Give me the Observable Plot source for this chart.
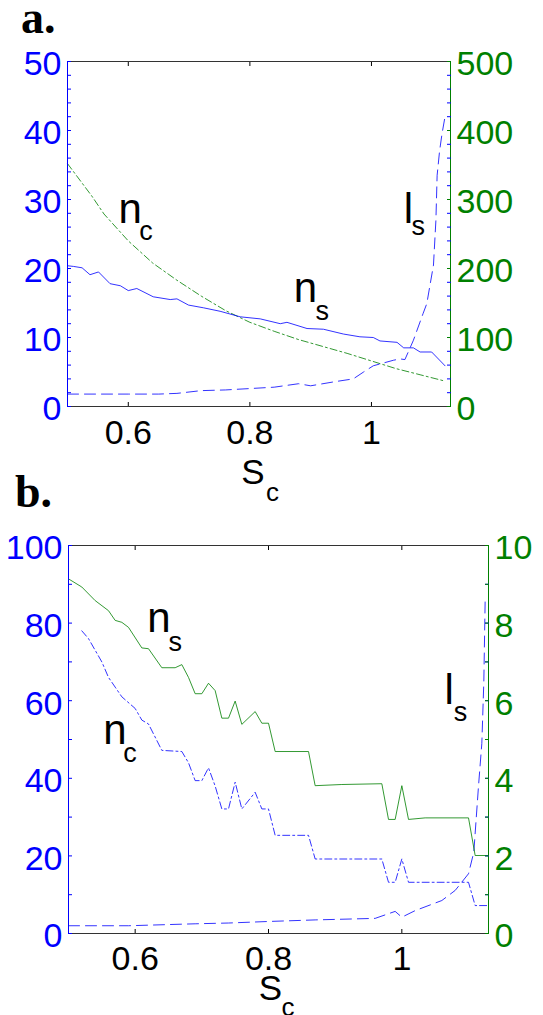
<!DOCTYPE html>
<html>
<head>
<meta charset="utf-8">
<script src="https://cdn.jsdelivr.net/npm/d3@7"></script>
<script src="https://cdn.jsdelivr.net/npm/@observablehq/plot@0.6"></script>
<style>
  html, body { margin: 0; padding: 0; background: #fff; }
  #wrap { position: relative; width: 543px; height: 1015px; overflow: hidden; }
  .panel { position: absolute; left: 0; }
  .tag { position: absolute; font-family: "Liberation Serif", "Times New Roman", serif; font-weight: bold; font-size: 46px; line-height: 36px; color: #000; }
</style>
</head>
<body>
<div id="wrap">
  <div class="tag" style="left:21px; top:0px;">a.</div>
  <div class="tag" style="left:15px; top:474px;">b.</div>
</div>
<script>
// ---------- shared ----------
const blue = "#0000ff";
const green = "#008000";
const ink = "#000000";
const xDomain = [0.5, 1.13];
const xTickValues = [0.6, 0.8, 1];

// ---------- panel a data ----------
const aLeftMax = 50, aRightMax = 500;
const aLeftLabels = [0, 10, 20, 30, 40, 50];
const aLeftTicks = [0,2,4,6,8,10,12,14,16,18,20,22,24,26,28,30,32,34,36,38,40,42,44,46,48,50];
const aRightLabels = [0, 100, 200, 300, 400, 500];

// n_s (solid blue, left axis)
const aNsS = [0.500,0.510,0.524,0.537,0.551,0.570,0.587,0.600,0.614,0.641,0.669,0.680,0.699,0.724,0.751,0.784,0.817,0.850,0.861,0.894,0.921,0.954,0.981,1.003,1.014,1.042,1.053,1.069,1.080,1.099,1.121];
const aNs  = [20.4,20.3,20.1,19.1,19.5,17.8,17.5,16.8,17.1,15.9,15.5,15.6,14.7,14.3,13.8,13.0,12.7,12.0,12.2,11.3,11.2,10.5,10.1,10.0,9.5,9.3,8.5,8.5,7.9,7.9,5.9];
// n_c (green dash-dot, right axis)
const aNcS = [0.50,0.54,0.56,0.60,0.64,0.68,0.72,0.76,0.80,0.84,0.88,0.92,0.96,1.00,1.04,1.08,1.12];
const aNc  = [352,305,279,240,208,183,160,139,122,109,97,87,77,66,55,46,37];
// l_s (blue dashed, left axis)
const aLsS = [0.50,0.55,0.60,0.65,0.68,0.72,0.76,0.80,0.84,0.88,0.90,0.94,0.97,0.987,1.003,1.036,1.047,1.055,1.069,1.085,1.091,1.102,1.106,1.108,1.112,1.116,1.121];
const aLs  = [1.8,1.8,1.8,1.8,1.9,2.3,2.4,2.6,2.8,3.3,3.0,3.6,4.0,5.0,5.9,6.7,6.9,6.8,9.6,13.5,14.9,20.5,27,33.5,37,39.5,42];

// annotations (panel a): main letters and subscripts, in data units of the left axis
const aMainText = ["n", "l", "n"];
const aMainX = [0.584, 1.053, 0.872];
const aMainY = [26.6, 26.6, 15.1];
const aSubText = ["c", "s", "s"];
const aSubX = [0.618, 1.066, 0.908];
const aSubY = [24.1, 24.9, 12.5];

// ---------- panel b data ----------
const bLeftMax = 100, bRightMax = 10;
const bLeftLabels = [0, 20, 40, 60, 80, 100];
const bLeftTicks = [0,10,20,30,40,50,60,70,80,90,100];
const bRightLabels = [0, 2, 4, 6, 8, 10];
const bRightTicks = [0,1,2,3,4,5,6,7,8,9,10];

// n_s (green solid, right axis)
const bNsS = [0.50,0.52,0.54,0.56,0.57,0.58,0.59,0.61,0.62,0.64,0.66,0.67,0.68,0.69,0.70,0.71,0.72,0.73,0.74,0.75,0.76,0.78,0.79,0.80,0.81,0.86,0.87,0.91,0.97,0.98,0.99,1.00,1.01,1.035,1.10,1.11,1.13];
const bNs  = [9.14,8.93,8.58,8.32,8.07,8.02,7.89,7.36,7.34,6.85,6.85,6.93,6.6,6.18,6.18,6.45,6.26,5.55,5.55,5.99,5.39,5.72,5.42,5.42,4.69,4.69,3.81,3.84,3.86,2.94,2.94,3.81,2.94,2.98,2.98,2.01,2.01];
// n_c (blue dash-dot, left axis)
const bNcS = [0.52,0.53,0.55,0.56,0.57,0.58,0.60,0.61,0.62,0.64,0.67,0.68,0.69,0.70,0.71,0.72,0.73,0.74,0.75,0.76,0.78,0.79,0.80,0.81,0.86,0.87,0.97,0.98,0.99,1.00,1.01,1.10,1.11,1.13];
const bNc  = [78,76,70,66,63.5,61,58,55,54,47.2,46.9,44,39.4,39.4,42.7,38,32.1,32.1,39.0,32.1,36.4,32.1,32.1,25.3,25.3,19.2,19.2,13.2,13.2,19.2,13.2,13.2,7.2,7.2];
// l_s (blue dashed, left axis)
const bLsS = [0.50,0.59,0.69,0.74,0.80,0.87,0.96,0.99,1.00,1.02,1.06,1.08,1.10,1.108,1.115,1.12,1.123,1.125];
const bLs  = [2.0,2.0,2.5,2.7,3.1,3.5,3.9,5.7,4.2,5.9,8.5,11.1,15.4,21,38,49,65,86];

// annotations (panel b)
const bMainText = ["n", "n", "l"];
const bMainX = [0.618, 0.552, 1.064];
const bMainY = [77.6, 48.9, 59.2];
const bSubText = ["s", "c", "s"];
const bSubX = [0.650, 0.582, 1.078];
const bSubY = [72.9, 44.2, 54.7];

// ---------- builder ----------
const solid = null, dashed = "11,6", dashdot = "7,3,2,3";

function zip(xs, ys, k = 1) { return xs.map((x, i) => ({x, y: ys[i] * k})); }
function notes(t, xs, ys) { return t.map((s, i) => ({t: s, x: xs[i], y: ys[i]})); }

function panel(cfg) {
  const k = cfg.leftMax / cfg.rightMax;  // right-axis value -> left-axis units
  const marks = [];
  for (const s of cfg.series) {
    marks.push(Plot.line(zip(s.x, s.y, s.axis === "right" ? k : 1), {
      x: "x", y: "y", stroke: s.color, strokeWidth: 1, strokeOpacity: 0.8, strokeDasharray: s.dash
    }));
  }
  // frame spines
  marks.push(Plot.ruleY([0, cfg.leftMax], {stroke: ink, strokeOpacity: 0.8, strokeWidth: 1}));
  marks.push(Plot.ruleX([xDomain[0]], {stroke: blue, strokeWidth: 1}));
  marks.push(Plot.ruleX([xDomain[1]], {stroke: green, strokeWidth: 1}));
  // inward ticks
  marks.push(Plot.axisY({anchor: "left", ticks: cfg.leftTicks, tickSize: -4, stroke: blue, fill: "none", label: null}));
  marks.push(Plot.axisY({anchor: "right", ticks: cfg.leftTicks, tickSize: -4, stroke: blue, fill: "none", label: null}));
  marks.push(Plot.axisY({anchor: "right", ticks: cfg.rightTicks.map(v => v * k), tickSize: -4, stroke: green, fill: "none", label: null}));
  marks.push(Plot.axisX({anchor: "bottom", ticks: xTickValues, tickSize: -4, stroke: ink, fill: "none", label: null}));
  marks.push(Plot.axisX({anchor: "top", ticks: xTickValues, tickSize: -4, stroke: ink, fill: "none", label: null}));
  // tick labels
  marks.push(Plot.axisY({anchor: "left", ticks: cfg.leftLabels, tickSize: 0, tickPadding: 6, dy: 3, label: null,
    tickFormat: d => String(d), fill: blue, fontSize: 34}));
  marks.push(Plot.axisY({anchor: "right", ticks: cfg.rightLabels.map(v => v * k), tickSize: 0, tickPadding: 6, dy: 3, label: null,
    tickFormat: d => String(Math.round(d / k)), fill: green, fontSize: 34}));
  marks.push(Plot.axisX({anchor: "bottom", ticks: xTickValues, tickSize: 0, tickPadding: cfg.xPad, label: null,
    tickFormat: d => String(d), fill: ink, fontSize: 34}));
  // x-axis label S_c
  marks.push(Plot.text(["S"], {text: d => d, frameAnchor: "bottom", dx: cfg.sDx, dy: cfg.sDy,
    lineAnchor: "bottom", textAnchor: "middle", fontSize: 35, fill: ink}));
  marks.push(Plot.text(["c"], {text: d => d, frameAnchor: "bottom", dx: cfg.cDx, dy: cfg.cDy,
    lineAnchor: "bottom", textAnchor: "start", fontSize: 26, fill: ink}));
  // curve annotations
  marks.push(Plot.text(cfg.main, {x: "x", y: "y", text: "t", textAnchor: "start", lineAnchor: "bottom", fontSize: 42, fill: ink}));
  marks.push(Plot.text(cfg.sub, {x: "x", y: "y", text: "t", textAnchor: "start", lineAnchor: "bottom", fontSize: 27, fill: ink}));

  const svg = Plot.plot({
    width: 543,
    height: cfg.height,
    marginTop: cfg.marginTop,
    marginBottom: cfg.marginBottom,
    marginLeft: cfg.marginLeft,
    marginRight: cfg.marginRight,
    x: {domain: xDomain, label: null},
    y: {domain: [0, cfg.leftMax], label: null},
    style: {fontFamily: '"Liberation Sans", Arial, Helvetica, sans-serif', fontSize: "34px", background: "transparent", overflow: "visible"},
    marks
  });
  svg.classList.add("panel");
  svg.style.top = cfg.top + "px";
  return svg;
}

const wrap = document.getElementById("wrap");

wrap.appendChild(panel({
  top: 0, height: 515, marginTop: 61, marginBottom: 109, marginLeft: 67, marginRight: 93,
  leftMax: aLeftMax, rightMax: aRightMax,
  leftLabels: aLeftLabels, leftTicks: aLeftTicks,
  rightLabels: aRightLabels, rightTicks: aRightLabels,
  xPad: 13, sDx: -6, sDy: 77, cDx: 7, cDy: 94,
  series: [
    {x: aNcS, y: aNc, axis: "right", color: green, dash: dashdot},
    {x: aLsS, y: aLs, axis: "left", color: blue, dash: dashed},
    {x: aNsS, y: aNs, axis: "left", color: blue, dash: solid}
  ],
  main: notes(aMainText, aMainX, aMainY),
  sub: notes(aSubText, aSubX, aSubY)
}));

wrap.appendChild(panel({
  top: 515, height: 500, marginTop: 30, marginBottom: 82, marginLeft: 68, marginRight: 55,
  leftMax: bLeftMax, rightMax: bRightMax,
  leftLabels: bLeftLabels, leftTicks: bLeftTicks,
  rightLabels: bRightLabels, rightTicks: bRightTicks,
  xPad: 12, sDx: -8, sDy: 66, cDx: 3, cDy: 82,
  series: [
    {x: bLsS, y: bLs, axis: "left", color: blue, dash: dashed},
    {x: bNcS, y: bNc, axis: "left", color: blue, dash: dashdot},
    {x: bNsS, y: bNs, axis: "right", color: green, dash: solid}
  ],
  main: notes(bMainText, bMainX, bMainY),
  sub: notes(bSubText, bSubX, bSubY)
}));
</script>
</body>
</html>
